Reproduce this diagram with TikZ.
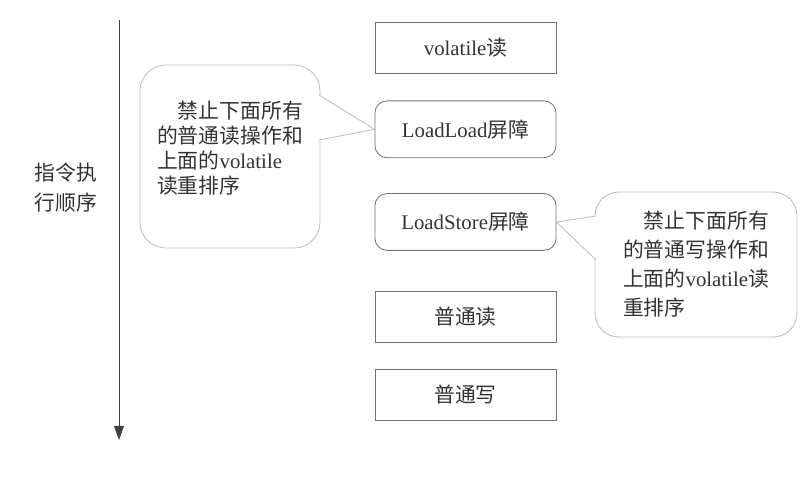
\documentclass[tikz,border=0pt]{standalone}
\usepackage{fontspec}
\setmainfont{Liberation Serif}
\newfontfamily\cjk{Noto Sans CJK SC}
\usetikzlibrary{arrows.meta, positioning}

\begin{document}
\begin{tikzpicture}[
    x=0.025cm, y=-0.025cm,
    font=\fontsize{14.8}{17.8}\selectfont,
    text=black!80,
    instr/.style={rectangle, draw=black!55, line width=0.6pt, minimum width=45.25mm, minimum height=12.75mm, inner sep=0pt},
    barrier/.style={instr, rounded corners=3mm, minimum height=14.2mm},
    note/.style={rectangle, draw=black!25, line width=0.6pt, fill=white, rounded corners=6.5mm, align=left, inner sep=0pt},
    pointer/.style={draw=black!25, line width=0.6pt, fill=white},
    timeline/.style={-{Triangle[length=10pt, width=7pt]}, draw=black!75, line width=0.6pt}
]
\useasboundingbox (0,0) rectangle (807,480);

% 时间轴
\coordinate (ttop) at (119,20);
\coordinate (tbot) at (119,440);
\draw[timeline] (ttop) -- (tbot);
\node[align=center, font=\fontsize{14.8}{21.3}\selectfont\cjk] (order) at (66,188) {指令执\\行顺序};

% 指令序列
\node[instr] (vread) at (465.5,47.5) {volatile{\cjk 读}};
\node[barrier, below=6.75mm of vread] (loadload) {LoadLoad{\cjk 屏障}};
\node[barrier, below=8.75mm of loadload] (loadstore) {LoadStore{\cjk 屏障}};
\node[instr, below=10mm of loadstore] (nread) {\cjk 普通读};
\node[instr, below=6.5mm of nread] (nwrite) {\cjk 普通写};

% 说明框
\node[note, minimum width=45mm, minimum height=45.75mm, font=\fontsize{14.8}{17.8}\selectfont\cjk] (llnote) at (230,156.5)
  {\hspace*{1em}禁止下面所有\\的普通读操作和\\上面的{\rmfamily volatile}\\读重排序\\[-4pt]};
\coordinate (llbase1) at (319,95);
\coordinate (llbase2) at (319,140);
\filldraw[pointer] (llbase1) -- (loadload.west) -- (llbase2);

\node[note, rounded corners=6mm, minimum width=50.5mm, minimum height=36.25mm,
      font=\fontsize{14.8}{20.6}\selectfont\cjk] (lsnote) at (696,264.5)
  {\hspace*{1em}禁止下面所有\\的普通写操作和\\上面的{\rmfamily volatile}读\\重排序};
\coordinate (lsbase1) at (596,216);
\coordinate (lsbase2) at (596,260);
\filldraw[pointer] (lsbase1) -- (loadstore.east) -- (lsbase2);
\end{tikzpicture}
\end{document}
